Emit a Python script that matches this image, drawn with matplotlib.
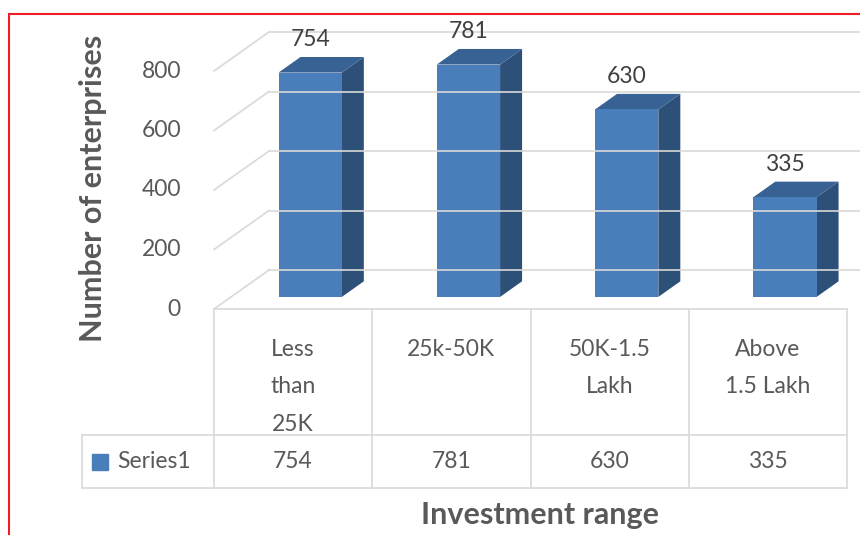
import matplotlib.pyplot as plt
from matplotlib.patches import Polygon, Rectangle

categories = ["Less\nthan\n25K", "25k-50K", "50K-1.5\nLakh", "Above\n1.5 Lakh"]
values = [754, 781, 630, 335]
series_name = "Series1"
yticks = [0, 200, 400, 600, 800]

plt.rcParams["font.family"] = ["Lato", "DejaVu Sans"]

FRONT = "#4a7ebb"
TOP = "#386194"
SIDE = "#2d5079"
GRID = "#d9d9d9"
TXT = "#595959"

W, H = 860, 535
fig = plt.figure(figsize=(W / 100, H / 100), dpi=100)

# front plane of the plot area, in pixels
left, right, base = 214, 847, 309
ppu = 0.2975            # pixels per value unit
ymax = 1000
n = len(values)
ppc = (right - left) / n  # pixels per category

ax = fig.add_axes([left / W, (H - base) / H, (right - left) / W, ymax * ppu / H])
ax.set_xlim(-0.5, n - 0.5)
ax.set_ylim(0, ymax)
ax.axis("off")

# depth of the 3d box, converted to data units
DPX, DPY = 55, 39


def depth(frac):
    return frac * DPX / ppc, frac * DPY / ppu


dx, dy = depth(1.0)
x0, x1 = -0.5, n - 0.5 + 1

# back wall / side wall gridlines
for t in yticks:
    ax.plot([x0, x0 + dx], [t, t + dy], color=GRID, lw=1.2, clip_on=False)
    ax.plot([x0 + dx, x1 + dx], [t + dy, t + dy], color=GRID, lw=1.2, clip_on=False)
    ax.text(x0 - 33 / ppc, t, str(t), ha="right", va="center",
            fontsize=16.5, color=TXT)

# columns
fx, fy = depth(0.31)
bx, by = depth(0.71)
bw = 0.4
for i, v in enumerate(values):
    l, r = i - bw / 2, i + bw / 2
    ax.add_patch(Polygon([(r + fx, fy), (r + bx, by), (r + bx, v + by), (r + fx, v + fy)],
                         closed=True, fc=SIDE, ec="none", clip_on=False))
    ax.add_patch(Polygon([(l + fx, v + fy), (r + fx, v + fy), (r + bx, v + by), (l + bx, v + by)],
                         closed=True, fc=TOP, ec="none", clip_on=False))
    ax.add_patch(Rectangle((l + fx, fy), bw, v, fc=FRONT, ec="none", clip_on=False))
    ax.text(i + fx, v + fy + 33 / ppu, str(v), ha="center", va="center",
            fontsize=16.5, color="#404040")

# data table under the chart
tl, tb, tt = 82, 488, 309
row = 435
tax = fig.add_axes([tl / W, (H - tb) / H, (right - tl) / W, (tb - tt) / H])
xl = -0.5 - (left - tl) / ppc
tax.set_xlim(xl, n - 0.5)
tax.set_ylim(0, tb - tt)
tax.axis("off")
rh = tb - row
th = tb - tt
kw = dict(color=GRID, lw=1.2, clip_on=False)
tax.plot([-0.5, n - 0.5], [th, th], **kw)
tax.plot([xl, n - 0.5], [rh, rh], **kw)
tax.plot([xl, n - 0.5], [0, 0], **kw)
tax.plot([xl, xl], [0, rh], **kw)
for k in range(n + 1):
    tax.plot([k - 0.5, k - 0.5], [0, th], **kw)

for i, (c, v) in enumerate(zip(categories, values)):
    tax.text(i, th - 30, c, ha="center", va="top", fontsize=16.5,
             color=TXT, linespacing=1.97)
    tax.text(i, rh / 2, str(v), ha="center", va="center", fontsize=16.5, color=TXT)

tax.plot([xl + (100 - tl) / ppc], [rh / 2], marker="s", ms=11.5,
         color=FRONT, clip_on=False)
tax.text(xl + (117 - tl) / ppc, rh / 2, series_name, ha="left", va="center",
         fontsize=16.5, color=TXT)

fig.text(93 / W, 1 - 188 / H, "Number of enterprises", rotation=90,
         ha="center", va="center", fontsize=22, fontweight="bold", color=TXT)
fig.text(540 / W, 1 - 515 / H, "Investment range", ha="center", va="center",
         fontsize=22, fontweight="bold", color=TXT)

# red frame around the chart
fig.add_artist(Rectangle((9 / W, -0.1), 1.2, (H - 13.5) / H + 0.1,
                         transform=fig.transFigure, fc="none", ec="#ee1c24", lw=1.5))

fig.savefig("out.png", dpi=100)
